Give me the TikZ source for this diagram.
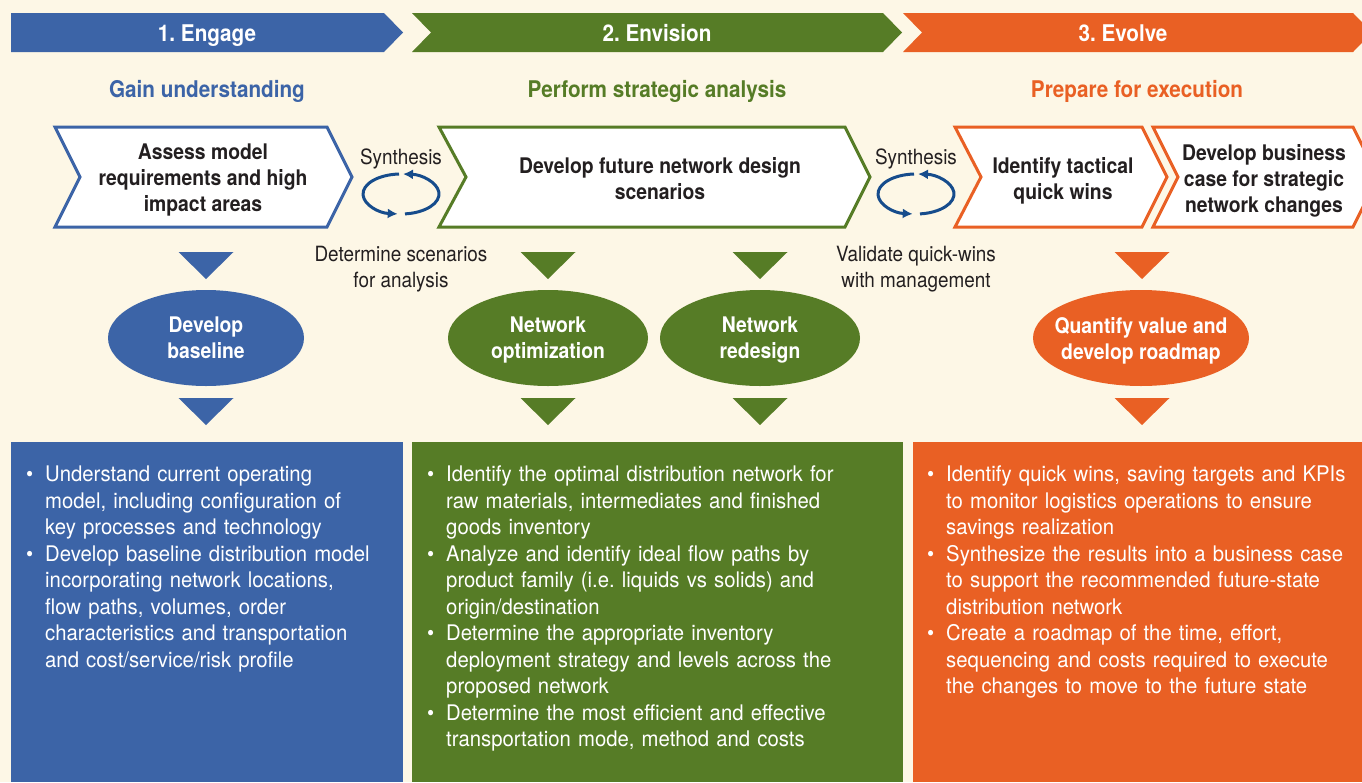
\documentclass[tikz,border=0pt]{standalone}
\usepackage{fontspec}
\setmainfont{TeX Gyre Heros}[FakeStretch=0.9]
\newfontfamily\bodyfont{TeX Gyre Heros}[FakeStretch=0.945]
\usetikzlibrary{arrows.meta,shapes.geometric}
\frenchspacing

\definecolor{cream}{RGB}{253,247,230}
\definecolor{engage}{RGB}{60,100,167}
\definecolor{envision}{RGB}{86,124,38}
\definecolor{evolve}{RGB}{233,96,36}
\definecolor{ink}{RGB}{35,31,32}
\definecolor{cyclec}{RGB}{22,76,140}

% bullet item with hanging indent; lines are broken with \newline
\newcommand\pitem[1]{\par\noindent\hangindent=19pt\hangafter=1\makebox[19pt][l]{\textbullet}#1\par}
% downward pointing triangle: centre x, top y, colour
\newcommand\downtri[3]{\fill[#3] (#1-27.5,#2) -- (#1+27.5,#2) -- (#1,#2+27) -- cycle;}

\tikzset{
  bannertext/.style={font=\fontsize{23}{26}\selectfont\bfseries, text=white, text depth=0pt},
  headtext/.style={font=\fontsize{23}{26}\selectfont\bfseries, text depth=0pt},
  boxtext/.style={font=\fontsize{21.5}{26}\selectfont\bfseries, text=ink, align=center, text depth=0pt},
  oval/.style={ellipse, inner sep=0pt, minimum height=96pt, text depth=0pt,
    font=\fontsize{21.5}{26}\selectfont\bfseries, text=white, align=center},
  note/.style={font=\fontsize{21}{26}\selectfont, text=ink, align=center, text depth=0pt},
  chev/.style={line width=3pt, fill=white, line join=miter},
  cyc/.style={line width=3pt, draw=cyclec, -{Latex[length=10pt,width=10pt]}},
  paneltext/.style={font=\bodyfont\fontsize{21.5}{26.5}\selectfont, text=white,
    align=left, inner sep=0pt, anchor=base west},
}

\begin{document}
\begin{tikzpicture}[x=1pt,y=-1pt]
  \useasboundingbox (0,0) rectangle (1362,782);
  \clip (0,0) rectangle (1362,782);
  \fill[cream] (0,0) rectangle (1362,782);

  % phase banners
  \fill[engage] (11,13) -- (384,13) -- (403,32.5) -- (384,52) -- (11,52) -- cycle;
  \fill[envision] (412,13) -- (883,13) -- (902,32.5) -- (883,52) -- (412,52) -- (431,32.5) -- cycle;
  \fill[evolve] (903,13) -- (1353,13) -- (1372,32.5) -- (1353,52) -- (903,52) -- (922,32.5) -- cycle;
  \node[bannertext] (b1) at (207,33) {1. Engage};
  \node[bannertext] (b2) at (657,33) {2. Envision};
  \node[bannertext] (b3) at (1123,33) {3. Evolve};

  % phase headings
  \node[headtext, text=engage] (h1) at (207,89) {Gain understanding};
  \node[headtext, text=envision] (h2) at (657,89) {Perform strategic analysis};
  \node[headtext, text=evolve] (h3) at (1137,89) {Prepare for execution};

  % process chevrons
  \draw[chev, draw=engage] (55,127) -- (327,127) -- (352,177) -- (327,227) -- (55,227) -- (80,177) -- cycle;
  \draw[chev, draw=envision] (439,127) -- (845,127) -- (870,177) -- (845,227) -- (439,227) -- (466,177) -- cycle;
  \draw[chev, draw=evolve] (955,127) -- (1142,127) -- (1167,177) -- (1142,227) -- (955,227) -- (981,177) -- cycle;
  \draw[chev, draw=evolve] (1153,127) -- (1353,127) -- (1378,177) -- (1353,227) -- (1153,227) -- (1178,177) -- cycle;
  \node[boxtext] (p1) at (203,178) {Assess model\\requirements and high\\impact areas};
  \node[boxtext] (p2) at (660,178) {Develop future network design\\scenarios};
  \node[boxtext] (p3) at (1063,178) {Identify tactical\\quick wins};
  \node[boxtext] (p4) at (1264,178) {Develop business\\case for strategic\\network changes};

  % synthesis loops
  \node[note] (s1) at (401,157) {Synthesis};
  \node[note] (s2) at (916,157) {Synthesis};
  \coordinate (c1) at (401,194);
  \coordinate (c2) at (916,194);
  \foreach \c in {c1,c2}{
    \draw[cyc] (\c) ++(267:38 and 20) arc[start angle=267, end angle=95, x radius=38, y radius=20];
    \draw[cyc] (\c) ++(84:38 and 20) arc[start angle=84, end angle=-87, x radius=38, y radius=20];
  }
  \node[note] (n1) at (401,267) {Determine scenarios\\for analysis};
  \node[note] (n2) at (916,267) {Validate quick-wins\\with management};

  % arrows into and out of the activities
  \downtri{206}{252}{engage}
  \downtri{548}{252}{envision}
  \downtri{760}{252}{envision}
  \downtri{1142}{252}{evolve}
  \downtri{206}{398}{engage}
  \downtri{548}{398}{envision}
  \downtri{760}{398}{envision}
  \downtri{1142}{398}{evolve}

  % activities
  \node[oval, fill=engage, minimum width=196pt] (o1) at (206,338) {Develop\\baseline};
  \node[oval, fill=envision, minimum width=200pt] (o2) at (548,338) {Network\\optimization};
  \node[oval, fill=envision, minimum width=200pt] (o3) at (760,338) {Network\\redesign};
  \node[oval, fill=evolve, minimum width=216pt, inner xsep=-16pt] (o4) at (1141,338) {Quantify value and\\develop roadmap};

  % detail panels
  \fill[engage] (11,442) rectangle (403,782);
  \fill[envision] (412,442) rectangle (903,782);
  \fill[evolve] (913,442) rectangle (1362,782);

  \node[paneltext, text width=375pt] (d1) at (26,455) {%
    \pitem{Understand current operating\newline model, including configuration of\newline key processes and technology}%
    \pitem{Develop baseline distribution model\newline incorporating network locations,\newline flow paths, volumes, order\newline characteristics and transportation\newline and cost/service/risk profile}};
  \node[paneltext, text width=475pt] (d2) at (427,455) {%
    \pitem{Identify the optimal distribution network for\newline raw materials, intermediates and finished\newline goods inventory}%
    \pitem{Analyze and identify ideal flow paths by\newline product family (i.e. liquids vs solids) and\newline origin/destination}%
    \pitem{Determine the appropriate inventory\newline deployment strategy and levels across the\newline proposed network}%
    \pitem{Determine the most efficient and effective\newline transportation mode, method and costs}};
  \node[paneltext, text width=440pt] (d3) at (927,455) {%
    \pitem{Identify quick wins, saving targets and KPIs\newline to monitor logistics operations to ensure\newline savings realization}%
    \pitem{Synthesize the results into a business case\newline to support the recommended future-state\newline distribution network}%
    \pitem{Create a roadmap of the time, effort,\newline sequencing and costs required to execute\newline the changes to move to the future state}};
\end{tikzpicture}
\end{document}
